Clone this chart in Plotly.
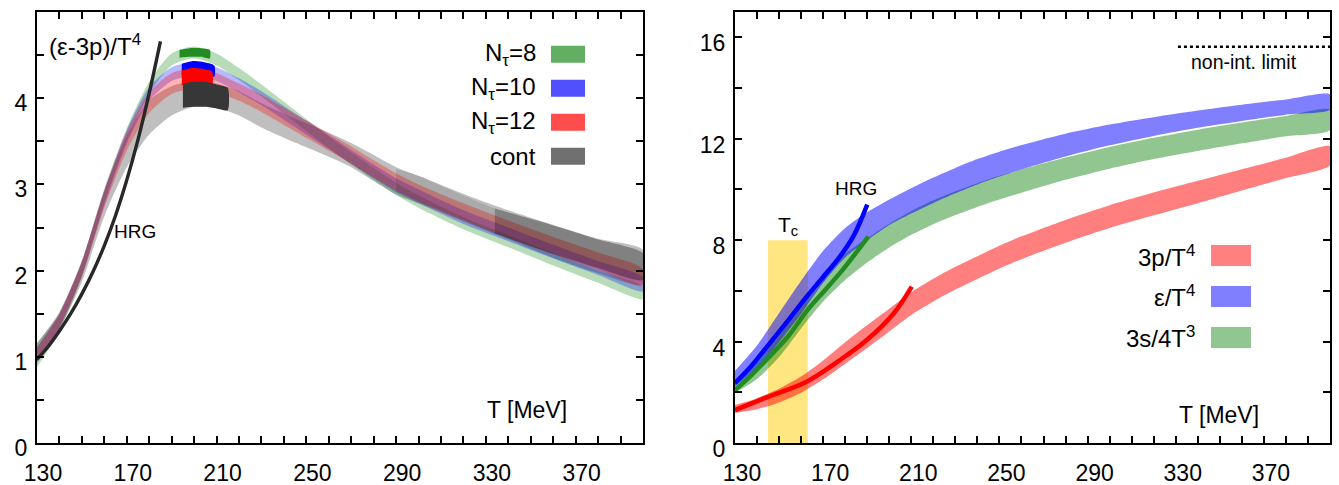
import plotly.graph_objects as go

# ---------------- Left panel data: (e-3p)/T^4 ----------------
T_L = [130, 140, 150, 160, 170, 180, 190, 200, 210, 220, 230, 240, 250, 260, 270, 280, 290, 300, 320, 340, 360, 380, 400]
cont_c = [1.05, 1.42, 1.99, 2.78, 3.38, 3.78, 3.97, 4.05, 4.03, 3.94, 3.80, 3.68, 3.57, 3.46, 3.34, 3.19, 3.04, 2.94, 2.73, 2.53, 2.34, 2.17, 2.04]
cont_e = [0.11, 0.10, 0.12, 0.15, 0.18, 0.20, 0.17, 0.15, 0.14, 0.14, 0.14, 0.14, 0.14, 0.14, 0.14, 0.15, 0.16, 0.16, 0.16, 0.17, 0.19, 0.20, 0.20]
nt12_c = [1.03, 1.42, 2.02, 2.83, 3.50, 3.95, 4.17, 4.23, 4.18, 4.07, 3.94, 3.79, 3.64, 3.49, 3.34, 3.18, 3.03, 2.90, 2.68, 2.48, 2.29, 2.11, 1.92]
nt12_e = [0.08, 0.08, 0.09, 0.10, 0.11, 0.12, 0.12, 0.12, 0.11, 0.10, 0.10, 0.10, 0.10, 0.10, 0.10, 0.10, 0.10, 0.10, 0.10, 0.10, 0.10, 0.10, 0.10]
nt10_c = [1.02, 1.42, 2.02, 2.84, 3.55, 4.05, 4.28, 4.34, 4.28, 4.15, 4.00, 3.83, 3.66, 3.49, 3.32, 3.15, 2.99, 2.86, 2.62, 2.42, 2.22, 2.03, 1.84]
nt10_e = [0.09, 0.08, 0.08, 0.08, 0.08, 0.08, 0.08, 0.08, 0.08, 0.08, 0.08, 0.08, 0.08, 0.08, 0.08, 0.08, 0.08, 0.08, 0.08, 0.08, 0.08, 0.08, 0.08]
nt8_c = [1.02, 1.40, 2.02, 2.87, 3.58, 4.12, 4.45, 4.53, 4.45, 4.28, 4.09, 3.89, 3.69, 3.49, 3.30, 3.12, 2.95, 2.80, 2.55, 2.34, 2.13, 1.93, 1.74]
nt8_e = [0.14, 0.10, 0.09, 0.08, 0.07, 0.07, 0.07, 0.07, 0.07, 0.07, 0.07, 0.07, 0.07, 0.07, 0.07, 0.07, 0.07, 0.07, 0.07, 0.07, 0.07, 0.07, 0.07]

# dense (dark) error-bar regions
nt8_core_T = [193.5, 198, 203, 207]
nt8_core_lo = [4.47, 4.48, 4.48, 4.46]
nt8_core_hi = [4.56, 4.58, 4.58, 4.56]
nt10_core_T = [194.5, 199, 204, 209]
nt10_core_lo = [4.26, 4.28, 4.28, 4.25]
nt10_core_hi = [4.40, 4.43, 4.42, 4.38]
nt12_core_T = [194.5, 199, 204, 208]
nt12_core_lo = [4.15, 4.17, 4.17, 4.15]
nt12_core_hi = [4.32, 4.35, 4.34, 4.31]
cont_core_T = [195, 200, 205, 210, 215]
cont_core_lo = [3.89, 3.90, 3.90, 3.88, 3.86]
cont_core_hi = [4.17, 4.19, 4.19, 4.16, 4.12]
cont_dark1_T = [290, 300, 312, 334, 358, 380, 400]
cont_dark1_lo = [2.92, 2.80, 2.68, 2.43, 2.21, 2.03, 1.89]
cont_dark1_hi = [3.18, 3.10, 2.96, 2.72, 2.54, 2.36, 2.20]
cont_dark2_T = [334, 358, 380, 400]
cont_dark2_lo = [2.43, 2.21, 2.03, 1.89]
cont_dark2_hi = [2.72, 2.54, 2.36, 2.20]

hrgL_T = [130, 135, 140, 145, 150, 155, 160, 165, 170, 175, 180, 185]
hrgL_v = [0.97, 1.12, 1.30, 1.50, 1.73, 1.99, 2.29, 2.64, 3.05, 3.52, 4.06, 4.66]

# ---------------- Right panel data ----------------
T_R = [130, 140, 150, 160, 170, 180, 190, 200, 210, 220, 230, 240, 250, 260, 280, 300, 320, 340, 360, 380, 400]
p3_c = [1.34, 1.55, 1.87, 2.30, 2.88, 3.55, 4.20, 4.85, 5.50, 6.03, 6.50, 6.92, 7.33, 7.70, 8.35, 8.93, 9.43, 9.90, 10.38, 10.85, 11.33]
p3_e = [0.16, 0.22, 0.27, 0.32, 0.37, 0.42, 0.45, 0.45, 0.45, 0.45, 0.45, 0.45, 0.45, 0.45, 0.45, 0.45, 0.45, 0.44, 0.42, 0.40, 0.37]
e_c = [2.55, 3.40, 4.55, 5.75, 6.95, 7.90, 8.55, 9.10, 9.55, 9.97, 10.35, 10.70, 11.00, 11.27, 11.75, 12.15, 12.48, 12.77, 13.02, 13.25, 13.45]
e_e = [0.30, 0.45, 0.58, 0.65, 0.63, 0.58, 0.55, 0.50, 0.50, 0.50, 0.50, 0.50, 0.49, 0.48, 0.45, 0.41, 0.37, 0.34, 0.32, 0.30, 0.30]
s_c = [2.23, 2.90, 3.85, 5.00, 6.10, 6.95, 7.60, 8.18, 8.68, 9.10, 9.46, 9.78, 10.07, 10.33, 10.82, 11.25, 11.62, 11.94, 12.23, 12.50, 12.75]
s_e = [0.26, 0.38, 0.46, 0.48, 0.52, 0.52, 0.48, 0.47, 0.47, 0.47, 0.47, 0.47, 0.47, 0.46, 0.44, 0.43, 0.42, 0.42, 0.41, 0.40, 0.40]

hrg_e_T = [130, 137.5, 145, 153.75, 162.5, 170, 177.6, 184, 190]
hrg_e_v = [2.36, 3.05, 3.85, 4.80, 5.77, 6.55, 7.35, 8.20, 9.40]
hrg_s_T = [130, 137.5, 145, 154, 162.5, 170, 177.6, 184, 190.5]
hrg_s_v = [2.09, 2.68, 3.35, 4.20, 5.20, 5.95, 6.70, 7.40, 8.14]
hrg_p_T = [130, 145, 162.5, 177.6, 189.8, 201.9, 210.2]
hrg_p_v = [1.30, 1.82, 2.42, 3.27, 4.06, 5.10, 6.17]

tc_T = [145, 163]
tc_top = 8.0
sb_T = [331, 400]
sb_v = [15.63, 15.63]

FONT = "Liberation Sans"

fig = go.Figure()


def band(x, c, e, color, xa, ya):
    lo = [ci - ei for ci, ei in zip(c, e)]
    hi = [ci + ei for ci, ei in zip(c, e)]
    return go.Scatter(x=list(x) + list(x)[::-1], y=hi + lo[::-1], fill="toself",
                      fillcolor=color, mode="lines",
                      line=dict(width=0, shape="spline", smoothing=0.7),
                      hoverinfo="skip", showlegend=False, xaxis=xa, yaxis=ya)


def band_lohi(x, lo, hi, color, xa, ya):
    return go.Scatter(x=list(x) + list(x)[::-1], y=list(hi) + list(lo)[::-1], fill="toself",
                      fillcolor=color, mode="lines", line=dict(width=0, shape="spline", smoothing=0.6),
                      hoverinfo="skip", showlegend=False, xaxis=xa, yaxis=ya)


# left panel bands
fig.add_trace(band(T_L, cont_c, cont_e, "rgba(0,0,0,0.25)", "x", "y"))
fig.add_trace(band(T_L, nt8_c, nt8_e, "rgba(0,128,0,0.28)", "x", "y"))
fig.add_trace(band(T_L, nt10_c, nt10_e, "rgba(0,0,255,0.28)", "x", "y"))
fig.add_trace(band(T_L, nt12_c, nt12_e, "rgba(255,0,0,0.30)", "x", "y"))
fig.add_trace(band_lohi(cont_dark1_T, cont_dark1_lo, cont_dark1_hi, "rgba(0,0,0,0.11)", "x", "y"))
fig.add_trace(band_lohi(cont_dark2_T, cont_dark2_lo, cont_dark2_hi, "rgba(0,0,0,0.24)", "x", "y"))
fig.add_trace(band_lohi(nt8_core_T, nt8_core_lo, nt8_core_hi, "rgb(34,139,34)", "x", "y"))
fig.add_trace(band_lohi(nt10_core_T, nt10_core_lo, nt10_core_hi, "rgb(0,0,255)", "x", "y"))
fig.add_trace(band_lohi(nt12_core_T, nt12_core_lo, nt12_core_hi, "rgb(255,0,0)", "x", "y"))
fig.add_trace(band_lohi(cont_core_T, cont_core_lo, cont_core_hi, "rgb(55,55,55)", "x", "y"))
fig.add_trace(go.Scatter(x=hrgL_T, y=hrgL_v, mode="lines", line=dict(color="rgb(40,40,40)", width=3.4, shape="spline"),
                         hoverinfo="skip", showlegend=False, xaxis="x", yaxis="y"))

# right panel
fig.add_trace(go.Scatter(x=[tc_T[0], tc_T[1], tc_T[1], tc_T[0]], y=[0, 0, tc_top, tc_top], fill="toself",
                         fillcolor="rgb(255,230,128)", mode="lines", line=dict(width=0),
                         hoverinfo="skip", showlegend=False, xaxis="x2", yaxis="y2"))
fig.add_trace(band(T_R, p3_c, p3_e, "rgba(255,0,0,0.5)", "x2", "y2"))
fig.add_trace(band(T_R, s_c, s_e, "rgba(0,122,0,0.43)", "x2", "y2"))
fig.add_trace(band(T_R, e_c, e_e, "rgba(0,0,255,0.5)", "x2", "y2"))
for tt, vv, col in [(hrg_p_T, hrg_p_v, "rgb(255,0,0)"), (hrg_s_T, hrg_s_v, "rgb(34,139,34)"), (hrg_e_T, hrg_e_v, "rgb(0,0,255)")]:
    fig.add_trace(go.Scatter(x=tt, y=vv, mode="lines", line=dict(color=col, width=4.5, shape="spline"),
                             hoverinfo="skip", showlegend=False, xaxis="x2", yaxis="y2"))
fig.add_trace(go.Scatter(x=sb_T, y=sb_v, mode="lines", line=dict(color="black", width=2.5, dash="dot"),
                         hoverinfo="skip", showlegend=False, xaxis="x2", yaxis="y2"))

tickfont = dict(family=FONT, size=23, color="black")


def xax(domain, anchor, shift):
    return dict(domain=domain, anchor=anchor, range=[130, 400], tickmode="array",
                tickvals=[130, 170, 210, 250, 290, 330, 370], ticks="inside", ticklen=7, tickwidth=1.5,
                tickcolor="black", minor=dict(tickmode="array", tickvals=list(range(130, 401, 10)),
                                              ticks="inside", ticklen=7, tickwidth=1.5, tickcolor="black"),
                showline=True, linewidth=2, linecolor="black", mirror="ticks", showgrid=False,
                zeroline=False, tickfont=tickfont, ticklabelshift=shift, ticklabelstandoff=8,
                automargin=False)


def yax(rng, anchor, vals, minor_vals, shift):
    return dict(domain=[0, 1], anchor=anchor, range=rng, tickmode="array", tickvals=vals,
                ticks="inside", ticklen=7, tickwidth=1.5, tickcolor="black",
                minor=dict(tickmode="array", tickvals=minor_vals, ticks="inside", ticklen=7,
                           tickwidth=1.5, tickcolor="black"),
                showline=True, linewidth=2, linecolor="black", mirror="ticks", showgrid=False,
                zeroline=False, tickfont=tickfont, ticklabelshift=shift, ticklabelstandoff=3,
                automargin=False)


fig.update_layout(
    width=1339, height=485, margin=dict(l=37, r=9, t=12, b=42),
    paper_bgcolor="white", plot_bgcolor="white", hovermode=False,
    xaxis=xax([0, 0.46868], "y", 6),
    yaxis=yax([0, 5], "x", [0, 1, 2, 3, 4], [0.5, 1.5, 2.5, 3.5, 4.5], 5),
    xaxis2=xax([0.53983, 1.0], "y2", 7),
    yaxis2=yax([0, 17], "x2", [0, 4, 8, 12, 16], [2, 6, 10, 14], 6),
)

ann = []


def txt(x, y, s, xr, yr, size=24, xanchor="center"):
    ann.append(dict(x=x, y=y, xref=xr, yref=yr, text=s, showarrow=False, xanchor=xanchor,
                    yanchor="middle", font=dict(family=FONT, size=size, color="black")))


# left panel texts
txt(134.5, 4.62, "(ε-3p)/T<sup>4</sup>", "x", "y", 24, "left")
txt(173.6, 2.45, "HRG", "x", "y", 19)
txt(348.2, 0.38, "T [MeV]", "x", "y", 23)
# right panel texts
txt(349.5, 1.1, "T [MeV]", "x2", "y2", 23)
txt(185.0, 10.02, "HRG", "x2", "y2", 19)
txt(154.0, 8.55, "T<sub>c</sub>", "x2", "y2", 21)
txt(361.0, 15.03, "non-int. limit", "x2", "y2", 19.5)

shapes = []
# left legend
legL = [("N<sub>τ</sub>=8", "rgb(98,174,98)"), ("N<sub>τ</sub>=10", "rgb(80,80,255)"),
        ("N<sub>τ</sub>=12", "rgb(255,77,77)"), ("cont", "rgb(112,112,112)")]
rowsL = [0.9019, 0.8230, 0.7441, 0.6652]
for (lab, col), yy in zip(legL, rowsL):
    txt(0.8267, yy, lab, "x domain", "y domain", 24, "right")
    shapes.append(dict(type="rect", xref="x domain", yref="y domain", x0=0.8482, x1=0.9043,
                       y0=yy - 0.0197, y1=yy + 0.0197, fillcolor=col, line=dict(width=0)))
# right legend
legR = [("3p/T<sup>4</sup>", "rgb(255,128,128)"), ("ε/T<sup>4</sup>", "rgb(128,128,255)"),
        ("3s/4T<sup>3</sup>", "rgb(145,198,145)")]
rowsR = [0.435, 0.340, 0.2448]
for (lab, col), yy in zip(legR, rowsR):
    txt(0.7765, yy, lab, "x2 domain", "y2 domain", 24, "right")
    shapes.append(dict(type="rect", xref="x2 domain", yref="y2 domain", x0=0.80, x1=0.8672,
                       y0=yy - 0.0244, y1=yy + 0.0244, fillcolor=col, line=dict(width=0)))

fig.update_layout(annotations=ann, shapes=shapes)
fig.write_html("out.html")
